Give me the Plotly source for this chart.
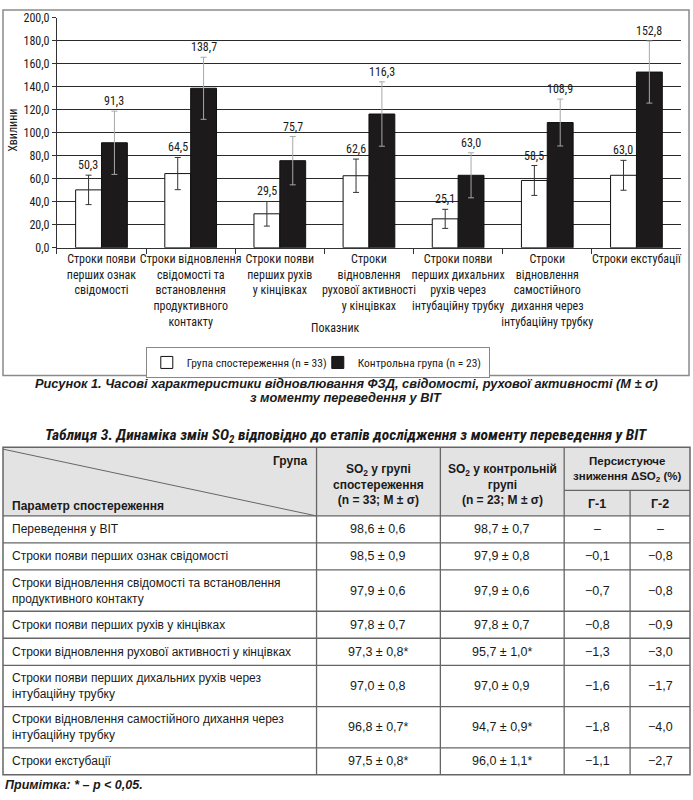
import plotly.graph_objects as go

W, H = 693, 800

# ---------------- chart data ----------------
categories = [
    "Строки появи<br>перших ознак<br>свідомості",
    "Строки відновлення<br>свідомості та<br>встановлення<br>продуктивного<br>контакту",
    "Строки появи<br>перших рухів<br>у кінцівках",
    "Строки<br>відновлення<br>рухової активності<br>у кінцівках",
    "Строки появи<br>перших дихальних<br>рухів через<br>інтубаційну трубку",
    "Строки<br>відновлення<br>самостійного<br>дихання через<br>інтубаційну трубку",
    "Строки екстубації",
]
obs_vals = [50.3, 64.5, 29.5, 62.6, 25.1, 58.5, 63.0]
obs_sd = [12.8, 14.0, 10.7, 14.5, 8.3, 13.0, 13.0]
ctrl_vals = [91.3, 138.7, 75.7, 116.3, 63.0, 108.9, 152.8]
ctrl_sd = [27.5, 27.0, 21.0, 28.0, 19.6, 20.4, 27.0]
y_ticks = [0, 20, 40, 60, 80, 100, 120, 140, 160, 180, 200]

# ---------------- table data ----------------
row_labels = [
    "Переведення у ВІТ",
    "Строки появи перших ознак свідомості",
    "Строки відновлення свідомості та встановлення<br>продуктивного контакту",
    "Строки появи перших рухів у кінцівках",
    "Строки відновлення рухової активності у кінцівках",
    "Строки появи перших дихальних рухів через<br>інтубаційну трубку",
    "Строки відновлення самостійного дихання через<br>інтубаційну трубку",
    "Строки екстубації",
]
obs_m = [98.6, 98.5, 97.9, 97.8, 97.3, 97.0, 96.8, 97.5]
obs_s = [0.6, 0.9, 0.6, 0.7, 0.8, 0.8, 0.7, 0.8]
ctrl_m = [98.7, 97.9, 97.9, 97.8, 95.7, 97.0, 94.7, 96.0]
ctrl_s = [0.7, 0.8, 0.6, 0.7, 1.0, 0.9, 0.9, 1.1]
signif = [False, False, False, False, True, False, True, True]
g1 = [None, -0.1, -0.7, -0.8, -1.3, -1.6, -1.8, -1.1]
g2 = [None, -0.8, -0.8, -0.9, -3.0, -1.7, -4.0, -2.7]


def fmt(v):
    return f"{v:.1f}".replace(".", ",")


def fmt_neg(v):
    if v is None:
        return "–"
    return ("−" if v < 0 else "") + fmt(abs(v))


def px(x):
    return x / W


def py(y):
    return 1 - y / H


NARROW = "Liberation Sans Narrow, Arial Narrow, Roboto Condensed, Liberation Sans, Arial, sans-serif"
SANS = "Liberation Sans, Arial, sans-serif"
TXT = "#1a1a1a"

fig = go.Figure()
fig.add_trace(go.Bar(
    name="Група спостереження (n = 33)", x=categories, y=obs_vals,
    marker=dict(color="white", line=dict(color="#111", width=1)),
    error_y=dict(type="data", array=obs_sd, color="#333", thickness=1, width=3),
))
fig.add_trace(go.Bar(
    name="Контрольна група (n = 23)", x=categories, y=ctrl_vals,
    marker=dict(color="#1c1a1b", line=dict(color="#111", width=1)),
    error_y=dict(type="data", array=ctrl_sd, color="#a8a8a8", thickness=1, width=3),
))

annotations = []
for i, c in enumerate(categories):
    annotations.append(dict(x=c, y=obs_vals[i] + obs_sd[i], xref="x", yref="y",
                            text=fmt(obs_vals[i]), showarrow=False, xshift=-13, yshift=10,
                            font=dict(family=NARROW, size=12, color=TXT)))
    annotations.append(dict(x=c, y=ctrl_vals[i] + ctrl_sd[i], xref="x", yref="y",
                            text=fmt(ctrl_vals[i]), showarrow=False, xshift=13, yshift=10,
                            font=dict(family=NARROW, size=12, color=TXT)))

# axis titles
annotations.append(dict(x=px(13), y=py(125), xref="paper", yref="paper", text="Хвилини",
                        textangle=-90, showarrow=False, xanchor="center", yanchor="middle",
                        font=dict(family=NARROW, size=12, color=TXT)))
annotations.append(dict(x=px(336), y=py(327), xref="paper", yref="paper", text="Показник",
                        showarrow=False, xanchor="center", yanchor="middle",
                        font=dict(family=NARROW, size=12, color=TXT)))

# figure caption
annotations.append(dict(x=0.5, y=py(383), xref="paper", yref="paper", showarrow=False,
                        yanchor="middle",
                        text="<b><i>Рисунок 1. Часові характеристики відновлювання ФЗД, свідомості, рухової активності (M ± σ)</i></b>",
                        font=dict(family=SANS, size=12.8, color=TXT)))
annotations.append(dict(x=0.5, y=py(397), xref="paper", yref="paper", showarrow=False,
                        yanchor="middle",
                        text="<b><i>з моменту переведення у ВІТ</i></b>",
                        font=dict(family=SANS, size=12.8, color=TXT)))

# table title
annotations.append(dict(x=0.5, y=py(437), xref="paper", yref="paper", showarrow=False,
                        yanchor="middle",
                        text="<b><i>Таблиця 3. Динаміка змін SO<sub>2</sub> відповідно до етапів дослідження з моменту переведення у ВІТ</i></b>",
                        font=dict(family=NARROW, size=15.5, color=TXT)))

shapes = []
# chart border
shapes.append(dict(type="rect", xref="paper", yref="paper", x0=px(3), x1=px(690), y0=py(3), y1=py(375),
                   line=dict(color="#8a8a8a", width=1.5), layer="below"))

# ---------------- table layout ----------------
cols = [3, 317, 441, 565, 631, 691]
top, head_bot = 448, 518
sub_line = 492
row_h = [27.5 if "<br>" not in r else 42 for r in row_labels]
rows = [head_bot]
for h in row_h:
    rows.append(rows[-1] + h)
bottom = rows[-1]
LC = "#666"

shapes.append(dict(type="rect", xref="paper", yref="paper", x0=px(cols[0]), x1=px(cols[-1]),
                   y0=py(top), y1=py(head_bot), fillcolor="#e3e3e3", line=dict(width=0), layer="below"))
# outer border
shapes.append(dict(type="rect", xref="paper", yref="paper", x0=px(cols[0]), x1=px(cols[-1]),
                   y0=py(top), y1=py(bottom), line=dict(color=LC, width=1.5)))
# vertical lines
for cx in cols[1:-1]:
    y_start = sub_line if cx == cols[4] else top
    shapes.append(dict(type="line", xref="paper", yref="paper", x0=px(cx), x1=px(cx),
                       y0=py(y_start), y1=py(bottom), line=dict(color=LC, width=1.3)))
# horizontal lines
for ry in rows[:-1]:
    shapes.append(dict(type="line", xref="paper", yref="paper", x0=px(cols[0]), x1=px(cols[-1]),
                       y0=py(ry), y1=py(ry), line=dict(color=LC, width=1.3)))
shapes.append(dict(type="line", xref="paper", yref="paper", x0=px(cols[3]), x1=px(cols[-1]),
                   y0=py(sub_line), y1=py(sub_line), line=dict(color=LC, width=1.3)))
# diagonal
shapes.append(dict(type="line", xref="paper", yref="paper", x0=px(cols[0]), x1=px(cols[1]),
                   y0=py(top + 2), y1=py(head_bot), line=dict(color=LC, width=1)))


def cell_text(x, y, text, size=12, bold=False, align="center", family=SANS):
    t = f"<b>{text}</b>" if bold else text
    return dict(x=px(x), y=py(y), xref="paper", yref="paper", text=t, showarrow=False,
                xanchor={"center": "center", "left": "left", "right": "right"}[align],
                yanchor="middle", align=align, font=dict(family=family, size=size, color=TXT))


# header texts
annotations.append(cell_text(cols[1] - 8, 462, "Група", bold=True, align="right"))
annotations.append(cell_text(cols[0] + 7, 508, "Параметр спостереження", bold=True, align="left"))
c2 = (cols[1] + cols[2]) / 2
c3 = (cols[2] + cols[3]) / 2
c45 = (cols[3] + cols[5]) / 2
annotations.append(cell_text(c2, 486, "SO<sub>2</sub> у групі<br>спостереження<br>(n = 33; M ± σ)", bold=True, size=12))
annotations.append(cell_text(c3, 486, "SO<sub>2</sub> у контрольній<br>групі<br>(n = 23; M ± σ)", bold=True, size=12))
annotations.append(cell_text(c45, 471, "Персистуюче<br>зниження ΔSO<sub>2</sub> (%)", bold=True, size=11.5))
annotations.append(cell_text((cols[3] + cols[4]) / 2, 506, "Г-1", bold=True, size=12.5))
annotations.append(cell_text((cols[4] + cols[5]) / 2, 506, "Г-2", bold=True, size=12.5))

for i, lab in enumerate(row_labels):
    yc = (rows[i] + rows[i + 1]) / 2
    star = "*" if signif[i] else ""
    annotations.append(cell_text(cols[0] + 7, yc, lab, align="left", size=12))
    annotations.append(cell_text(c2, yc, f"{fmt(obs_m[i])} ± {fmt(obs_s[i])}{star}", size=12.5))
    annotations.append(cell_text(c3, yc, f"{fmt(ctrl_m[i])} ± {fmt(ctrl_s[i])}{star}", size=12.5))
    annotations.append(cell_text((cols[3] + cols[4]) / 2, yc, fmt_neg(g1[i]), size=12.5))
    annotations.append(cell_text((cols[4] + cols[5]) / 2, yc, fmt_neg(g2[i]), size=12.5))

annotations.append(dict(x=px(3), y=py(792), xref="paper", yref="paper", xanchor="left",
                        yanchor="middle",
                        showarrow=False, text="<b><i>Примітка: * – p < 0,05.</i></b>",
                        font=dict(family=SANS, size=12.5, color=TXT)))

fig.update_layout(
    width=W, height=H, autosize=False,
    margin=dict(l=0, r=0, t=0, b=0),
    paper_bgcolor="white", plot_bgcolor="white",
    separators=", ",
    barmode="group", bargap=0.42, bargroupgap=0,
    font=dict(family=NARROW, size=12, color=TXT),
    xaxis=dict(domain=[px(57), px(682)], type="category", tickson="boundaries",
               ticks="outside", ticklen=5, tickcolor="#333", showline=True,
               linecolor="#333", linewidth=1, showgrid=False, tickangle=0,
               tickfont=dict(family=NARROW, size=12, color=TXT)),
    yaxis=dict(domain=[py(245), py(11)], range=[0, 200], tickvals=y_ticks,
               tickformat=".1f", ticks="outside", ticklen=4, tickcolor="#333",
               showline=True, linecolor="#333", linewidth=1,
               showgrid=True, gridcolor="#2a2a2a", gridwidth=1, zeroline=False,
               tickfont=dict(family=NARROW, size=12, color=TXT)),
    legend=dict(orientation="h", x=px(146), y=py(346), xanchor="left", yanchor="top",
                bordercolor="#888", borderwidth=1, bgcolor="white", entrywidth=126,
                itemwidth=30, tracegroupgap=0,
                font=dict(family=NARROW, size=11.5, color=TXT)),
    annotations=annotations,
    shapes=shapes,
)

fig.write_html("out.html", config={"displayModeBar": False},
               post_script="document.body.style.margin='0';document.body.style.overflow='hidden';")
